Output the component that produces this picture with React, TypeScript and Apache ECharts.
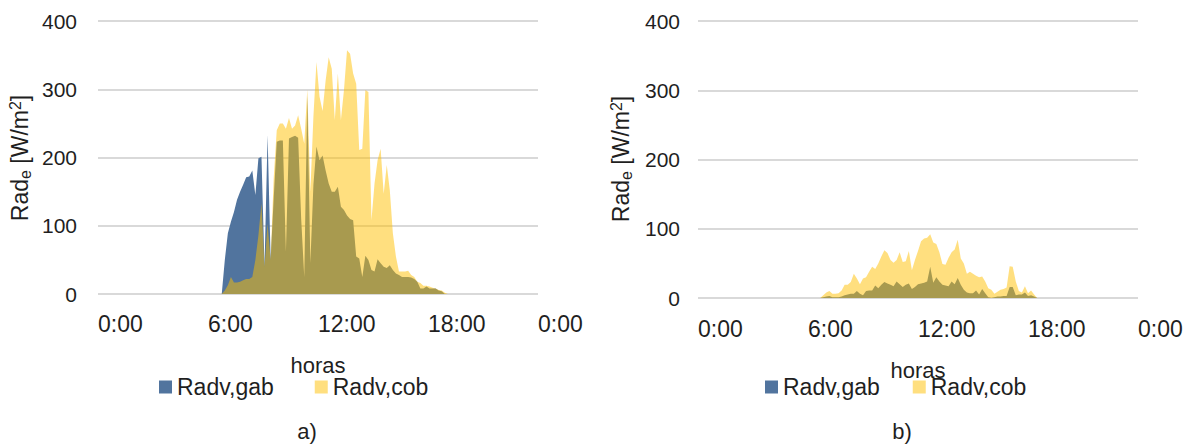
import React, { useEffect, useRef } from 'react';
import * as echarts from 'echarts';

const FONT = '"Liberation Sans", Arial, Helvetica, sans-serif';
const TEXT = '#1f1f1f';
const GAB_COLOR = '#51749e';
const COB_COLOR = 'rgba(255, 192, 0, 0.5)';

const seriesNames = ['Radv,gab', 'Radv,cob'];
const panelLabels = ['a)', 'b)'];
const xTitle = 'horas';

// 10-minute samples; panel a) starts at 6:45, panel b) at 6:40 (hours)
const stepHours = 1 / 6;
const startA = 6.75;
const startB = 6 + 40 / 60;

const gabA = [0, 50, 89, 106, 120, 138, 150, 160, 171, 172,
  181, 145, 199, 201, 40, 233, 50, 140, 223, 225,
  225, 62, 228, 230, 232, 229, 110, 25, 290, 45,
  160, 216, 196, 203, 181, 162, 150, 150, 157, 128,
  123, 115, 110, 108, 55, 52, 25, 56, 50, 35,
  33, 51, 45, 40, 38, 42, 35, 30, 28, 25,
  25, 25, 24, 22, 18, 8, 8, 11, 8, 8,
  8, 5, 4, 0, 0];
const cobA = [0, 5, 13, 25, 17, 17, 18, 20, 22, 22,
  25, 50, 86, 133, 40, 103, 50, 170, 240, 250,
  250, 242, 258, 242, 247, 262, 242, 220, 300, 150,
  260, 340, 289, 268, 313, 347, 330, 255, 323, 255,
  299, 357, 352, 323, 308, 211, 213, 299, 296, 108,
  162, 196, 213, 147, 189, 152, 89, 55, 33, 33,
  33, 34, 28, 25, 18, 16, 12, 12, 11, 9,
  8, 6, 5, 2, 0];

const gabB = [0, 1, 2, 3, 1, 1, 1, 2, 4, 5,
  6, 6, 10, 6, 4, 10, 11, 11, 18, 14,
  19, 23, 21, 19, 17, 24, 20, 16, 19, 21,
  13, 16, 20, 21, 22, 24, 45, 22, 30, 24,
  19, 18, 17, 24, 20, 29, 19, 12, 8, 7,
  7, 11, 5, 13, 7, 1, 0, 1, 2, 2,
  3, 3, 16, 16, 4, 5, 5, 8, 3, 4,
  2, 0];
const cobB = [0, 4, 8, 10, 6, 6, 7, 11, 19, 19,
  23, 35, 28, 20, 28, 30, 38, 45, 42, 50,
  60, 69, 65, 55, 51, 55, 66, 52, 53, 68,
  40, 55, 68, 82, 86, 87, 92, 80, 78, 66,
  49, 48, 58, 66, 70, 84, 57, 50, 35, 38,
  35, 32, 30, 31, 24, 14, 12, 6, 9, 12,
  13, 15, 46, 45, 24, 10, 8, 17, 7, 11,
  5, 0];

const xMin = 0;
const xMax = 24;
const xInterval = 6;
const yMin = 0;
const yMax = 400;
const yInterval = 100;

function pairs(start: number, values: number[]) {
  return values.map((v, i) => [start + i * stepHours, v]);
}

const fmtHour = (v: number) => `${v % 24}:00`;

export default function App() {
  const ref = useRef<HTMLDivElement>(null);
  useEffect(() => {
    document.body.style.margin = '0';
    if (!ref.current) return;
    const chart = echarts.init(ref.current, null, { renderer: 'svg' });

    const xAxisBase = (gridIndex: number, margin: number, nameGap: number) => ({
      gridIndex,
      type: 'value',
      min: xMin,
      max: xMax,
      interval: xInterval,
      axisLine: { show: false },
      axisTick: { show: false },
      splitLine: { show: false },
      axisLabel: {
        formatter: fmtHour,
        fontSize: 23,
        lineHeight: 24,
        color: TEXT,
        fontFamily: FONT,
        align: 'left',
        margin,
        showMinLabel: true,
        showMaxLabel: true,
      },
      name: xTitle,
      nameLocation: 'middle',
      nameGap,
      nameTextStyle: { fontSize: 22, lineHeight: 24, color: TEXT, fontFamily: FONT },
    });

    const yAxisBase = (gridIndex: number, margin: number) => ({
      gridIndex,
      type: 'value',
      min: yMin,
      max: yMax,
      interval: yInterval,
      axisLine: { show: false },
      axisTick: { show: false },
      splitLine: { show: true, lineStyle: { color: '#d9d9d9', width: 2 } },
      axisLabel: { fontSize: 21, color: TEXT, fontFamily: FONT, margin },
    });

    const areaSeries = (name: string, color: string, idx: number, data: number[][], z: number) => ({
      name,
      type: 'line',
      xAxisIndex: idx,
      yAxisIndex: idx,
      data,
      symbol: 'none',
      showSymbol: false,
      silent: true,
      z,
      lineStyle: { width: 0, color },
      itemStyle: { color },
      areaStyle: { color, opacity: 1 },
    });

    const legendBase = (left: number, itemGap: number) => ({
      data: seriesNames,
      left,
      top: 375,
      orient: 'horizontal',
      padding: 0,
      itemWidth: 13,
      itemHeight: 13,
      itemGap,
      icon: 'rect',
      selectedMode: false,
      textStyle: { fontSize: 23, lineHeight: 24, color: TEXT, fontFamily: FONT },
    });

    const yName = (x: number, y: number) => ({
      type: 'text',
      x,
      y,
      rotation: Math.PI / 2,
      style: {
        text: 'Rad{sub|e} [W/m{sup|2}]',
        fontSize: 23,
        fontFamily: FONT,
        fill: TEXT,
        align: 'center',
        verticalAlign: 'middle',
        lineHeight: 26,
        rich: {
          sub: { fontSize: 16, lineHeight: 15, verticalAlign: 'bottom', fontFamily: FONT, fill: TEXT },
          sup: { fontSize: 16, lineHeight: 15, verticalAlign: 'top', fontFamily: FONT, fill: TEXT },
        },
      },
    });

    const panelText = (text: string, x: number, y: number) => ({
      type: 'text',
      x,
      y,
      style: { text, fontSize: 22, fontFamily: FONT, fill: TEXT, align: 'center', verticalAlign: 'middle' },
    });

    chart.setOption({
      animation: false,
      grid: [
        { left: 98, top: 21, width: 440, height: 273 },
        { left: 698, top: 21, width: 440, height: 277 },
      ],
      xAxis: [xAxisBase(0, 18, 59), xAxisBase(1, 19, 60)],
      yAxis: [yAxisBase(0, 21), yAxisBase(1, 18)],
      legend: [legendBase(159, 41), legendBase(765, 33)],
      series: [
        areaSeries(seriesNames[0], GAB_COLOR, 0, pairs(startA, gabA), 2),
        areaSeries(seriesNames[1], COB_COLOR, 0, pairs(startA, cobA), 3),
        areaSeries(seriesNames[0], GAB_COLOR, 1, pairs(startB, gabB), 2),
        areaSeries(seriesNames[1], COB_COLOR, 1, pairs(startB, cobB), 3),
      ],
      graphic: [
        yName(20, 158),
        yName(621, 159),
        panelText(panelLabels[0], 307, 431),
        panelText(panelLabels[1], 902, 431),
      ],
    });
    return () => chart.dispose();
  }, []);
  return <div ref={ref} style={{ width: 1195, height: 445 }} />;
}
